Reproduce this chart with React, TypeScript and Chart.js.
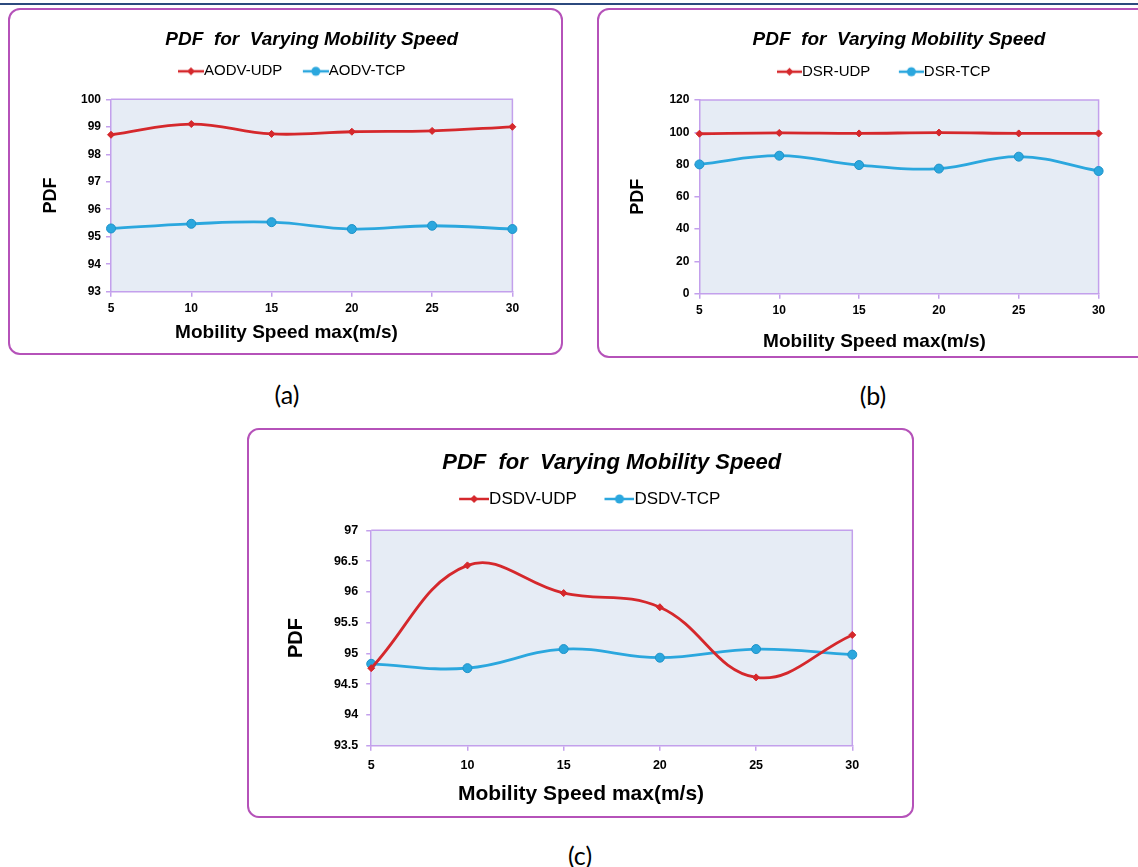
import React, { useEffect, useRef } from 'react';
import { Chart, registerables } from 'chart.js';

Chart.register(...registerables);
Chart.defaults.font.family = '"Liberation Sans", Arial, sans-serif';

// ---------- data ----------
const speeds = ['5', '10', '15', '20', '25', '30'];

const aodvUdp = [98.71, 99.1, 98.74, 98.82, 98.85, 99.0];
const aodvTcp = [95.3, 95.47, 95.53, 95.28, 95.4, 95.28];

const dsrUdp = [99.1, 99.6, 99.3, 99.8, 99.3, 99.3];
const dsrTcp = [80.1, 85.5, 79.7, 77.5, 84.9, 76.0];

const dsdvUdp = [94.76, 96.43, 95.98, 95.75, 94.61, 95.3];
const dsdvTcp = [94.83, 94.76, 95.07, 94.93, 95.07, 94.98];

const aodvYTicks = [93, 94, 95, 96, 97, 98, 99, 100];
const dsrYTicks = [0, 20, 40, 60, 80, 100, 120];
const dsdvYTicks = [93.5, 94, 94.5, 95, 95.5, 96, 96.5, 97];

const chartTitle = 'PDF  for  Varying Mobility Speed';
const xAxisTitle = 'Mobility Speed max(m/s)';
const yAxisTitle = 'PDF';

// ---------- styles ----------
const RED = '#d5282c';
const BLUE = '#2ba7de';
const BLUE_EDGE = '#1f93c9';
const AXIS = '#c3a0ec';
const PLOT_BG = '#e6ecf5';
const PANEL = '#b552b9';

function legendImage(color: string, style: string, radius: number, m: number, lineLen: number) {
  const c = document.createElement('canvas');
  c.width = m + lineLen;
  c.height = 14;
  const g = c.getContext('2d')!;
  g.strokeStyle = color;
  g.lineWidth = 2.5;
  g.beginPath();
  g.moveTo(m, 7);
  g.lineTo(m + lineLen, 7);
  g.stroke();
  g.fillStyle = color;
  const cx = m + lineLen / 2;
  g.beginPath();
  if (style === 'circle') {
    g.arc(cx, 7, radius, 0, Math.PI * 2);
  } else {
    g.moveTo(cx, 7 - radius);
    g.lineTo(cx + radius, 7);
    g.lineTo(cx, 7 + radius);
    g.lineTo(cx - radius, 7);
    g.closePath();
  }
  g.fill();
  return c;
}

const plotBg = {
  id: 'plotBg',
  beforeDraw(chart: any) {
    const { ctx, chartArea } = chart;
    const { left, top, right, bottom } = chartArea;
    ctx.save();
    ctx.fillStyle = PLOT_BG;
    ctx.fillRect(left, top, right - left, bottom - top);
    ctx.strokeStyle = AXIS;
    ctx.lineWidth = 1.5;
    ctx.beginPath();
    ctx.moveTo(left, top);
    ctx.lineTo(right, top);
    ctx.lineTo(right, bottom);
    ctx.stroke();
    ctx.restore();
  },
};

type Cfg = {
  left: number; top: number; w: number; h: number;
  names: string[]; udp: number[]; tcp: number[]; yTicks: number[];
  titleFont: number; titlePad: { top: number; bottom: number };
  legendFont: number; legendM: number; legendLine: number;
  spacer: number;
  yTitleFont: number;
  yTitlePad: { top: number; bottom: number };
  tickFont: number;
  yTickPad: number; xTickPad: number;
  xTitleFont: number; xTitlePad: { top: number; bottom: number };
  rightK: number;
};

const cfgA: Cfg = {
  left: 10, top: 10, w: 553, h: 343,
  names: ['AODV-UDP', 'AODV-TCP'], udp: aodvUdp, tcp: aodvTcp, yTicks: aodvYTicks,
  titleFont: 19, titlePad: { top: 17.9, bottom: 3.1 },
  legendFont: 15, legendM: 18, legendLine: 26,
  spacer: 9.3,
  yTitleFont: 18,
  yTitlePad: { top: 30.2, bottom: 14.2 },
  tickFont: 12,
  yTickPad: 5, xTickPad: 5,
  xTitleFont: 19, xTitlePad: { top: 0.5, bottom: 8.6 },
  rightK: 50.6,
};

const cfgB: Cfg = {
  left: 600, top: 10, w: 549, h: 345,
  names: ['DSR-UDP', 'DSR-TCP'], udp: dsrUdp, tcp: dsrTcp, yTicks: dsrYTicks,
  titleFont: 19, titlePad: { top: 17.9, bottom: 3.5 },
  legendFont: 15, legendM: 26, legendLine: 25,
  spacer: 9.6,
  yTitleFont: 18,
  yTitlePad: { top: 27.4, bottom: 15.4 },
  tickFont: 12,
  yTickPad: 5, xTickPad: 5,
  xTitleFont: 19, xTitlePad: { top: 7.5, bottom: 1.6 },
  rightK: 50.4,
};

const cfgC: Cfg = {
  left: 250, top: 430, w: 662, h: 386,
  names: ['DSDV-UDP', 'DSDV-TCP'], udp: dsdvUdp, tcp: dsdvTcp, yTicks: dsdvYTicks,
  titleFont: 22, titlePad: { top: 19.5, bottom: 4.6 },
  legendFont: 17, legendM: 26, legendLine: 30,
  spacer: 11.6,
  yTitleFont: 20,
  yTitlePad: { top: 34.4, bottom: 17.5 },
  tickFont: 12.5,
  yTickPad: 8, xTickPad: 7,
  xTitleFont: 21, xTitlePad: { top: 1.7, bottom: 9.4 },
  rightK: 59.7,
};

function PanelChart({ cfg }: { cfg: Cfg }) {
  const ref = useRef<HTMLCanvasElement | null>(null);
  useEffect(() => {
    if (!ref.current) return;
    const imgs = [
      legendImage(RED, 'diamond', 4, cfg.legendM, cfg.legendLine),
      legendImage(BLUE, 'circle', 4.5, cfg.legendM, cfg.legendLine),
    ];
    const boxW = cfg.legendM + cfg.legendLine - cfg.legendFont;
    const yt = cfg.yTicks;
    const chart = new Chart(ref.current, {
      type: 'line',
      data: {
        labels: speeds,
        datasets: [
          {
            label: cfg.names[0],
            data: cfg.udp,
            borderColor: RED,
            backgroundColor: RED,
            borderWidth: 2.8,
            tension: 0.4,
            pointStyle: 'rectRot',
            pointRadius: 3.5,
            pointBackgroundColor: RED,
            pointBorderColor: RED,
            pointBorderWidth: 1,
          },
          {
            label: cfg.names[1],
            data: cfg.tcp,
            borderColor: BLUE,
            backgroundColor: BLUE,
            borderWidth: 2.8,
            tension: 0.4,
            pointStyle: 'circle',
            pointRadius: 4.5,
            pointBackgroundColor: BLUE,
            pointBorderColor: BLUE_EDGE,
            pointBorderWidth: 1,
          },
        ],
      },
      options: {
        responsive: false,
        animation: false,
        devicePixelRatio: 1,
        layout: { padding: 0 },
        plugins: {
          tooltip: { enabled: false },
          title: {
            display: true,
            text: chartTitle,
            color: '#000',
            fullSize: false,
            font: { size: cfg.titleFont, weight: 'bold', style: 'italic' },
            padding: cfg.titlePad,
          },
          subtitle: {
            display: true,
            text: '',
            fullSize: false,
            weight: 500,
            font: { size: 1 },
            padding: { top: 0, bottom: cfg.spacer },
          },
          legend: {
            display: true,
            position: 'top',
            align: 'center',
            labels: {
              usePointStyle: true,
              pointStyleWidth: boxW,
              padding: 10,
              color: '#000',
              font: { size: cfg.legendFont },
              generateLabels: (ch: any) =>
                ch.data.datasets.map((ds: any, i: number) => ({
                  text: ds.label,
                  pointStyle: imgs[i],
                  fillStyle: ds.borderColor,
                  strokeStyle: ds.borderColor,
                  lineWidth: 0,
                  hidden: false,
                  datasetIndex: i,
                  fontColor: '#000',
                })),
            },
          },
        },
        scales: {
          x: {
            type: 'category',
            position: 'bottom',
            offset: false,
            grid: { display: true, drawOnChartArea: false, drawTicks: true, tickLength: 5, color: AXIS, lineWidth: 1.5 },
            border: { display: true, color: AXIS, width: 1.5 },
            ticks: { color: '#000', font: { size: cfg.tickFont, weight: 'bold' }, padding: cfg.xTickPad, maxRotation: 0, autoSkip: false },
          },
          xT: {
            type: 'category',
            position: 'bottom',
            fullSize: true,
            weight: 10,
            display: true,
            grid: { display: false, drawTicks: false },
            border: { display: false },
            ticks: { display: false },
            title: {
              display: true,
              text: xAxisTitle,
              color: '#000',
              font: { size: cfg.xTitleFont, weight: 'bold' },
              padding: cfg.xTitlePad,
            },
          },
          y: {
            type: 'linear',
            position: 'left',
            min: yt[0],
            max: yt[yt.length - 1],
            grid: { display: true, drawOnChartArea: false, drawTicks: true, tickLength: 5, color: AXIS, lineWidth: 1.5 },
            border: { display: true, color: AXIS, width: 1.5 },
            ticks: {
              color: '#000',
              font: { size: cfg.tickFont, weight: 'bold' },
              padding: cfg.yTickPad,
              stepSize: yt[1] - yt[0],
              autoSkip: false,
              callback: (v: any) => String(Number(v)),
            },
            title: {
              display: true,
              text: yAxisTitle,
              color: '#000',
              font: { size: cfg.yTitleFont, weight: 'bold' },
              padding: cfg.yTitlePad,
            },
          },
          yR: {
            type: 'linear',
            position: 'right',
            display: true,
            grid: { display: false, drawTicks: false },
            border: { display: false },
            ticks: { display: false },
            afterFit: (s: any) => {
              s.width = cfg.rightK;
            },
          },
        },
      } as any,
      plugins: [plotBg],
    });
    return () => chart.destroy();
  }, [cfg]);
  return (
    <canvas
      ref={ref}
      width={cfg.w}
      height={cfg.h}
      style={{ position: 'absolute', left: cfg.left, top: cfg.top, width: cfg.w, height: cfg.h }}
    />
  );
}

const panelStyle = (left: number, top: number, width: number, height: number): React.CSSProperties => ({
  position: 'absolute',
  left,
  top,
  width,
  height,
  boxSizing: 'border-box',
  border: `2px solid ${PANEL}`,
  borderRadius: 12,
  background: '#fff',
});

const captionStyle = (cx: number, cy: number): React.CSSProperties => ({
  position: 'absolute',
  left: cx - 50,
  top: cy - 15,
  width: 100,
  textAlign: 'center',
  fontFamily: 'Lato, "Open Sans", sans-serif',
  fontSize: 25,
  lineHeight: '30px',
  color: '#000',
});

export default function App() {
  return (
    <div style={{ position: 'absolute', left: 0, top: 0, width: 1138, height: 867, overflow: 'hidden', background: '#fff' }}>
      <div style={{ position: 'absolute', left: 0, top: 3, width: 1138, height: 2, background: '#2c4a7e' }} />
      <div style={panelStyle(8, 8, 555, 347)} />
      <div style={panelStyle(597, 8, 570, 350)} />
      <div style={panelStyle(247, 428, 667, 390)} />
      <PanelChart cfg={cfgA} />
      <PanelChart cfg={cfgB} />
      <PanelChart cfg={cfgC} />
      <div style={captionStyle(287, 394)}>(a)</div>
      <div style={captionStyle(873, 395)}>(b)</div>
      <div style={captionStyle(580, 855)}>(c)</div>
    </div>
  );
}
